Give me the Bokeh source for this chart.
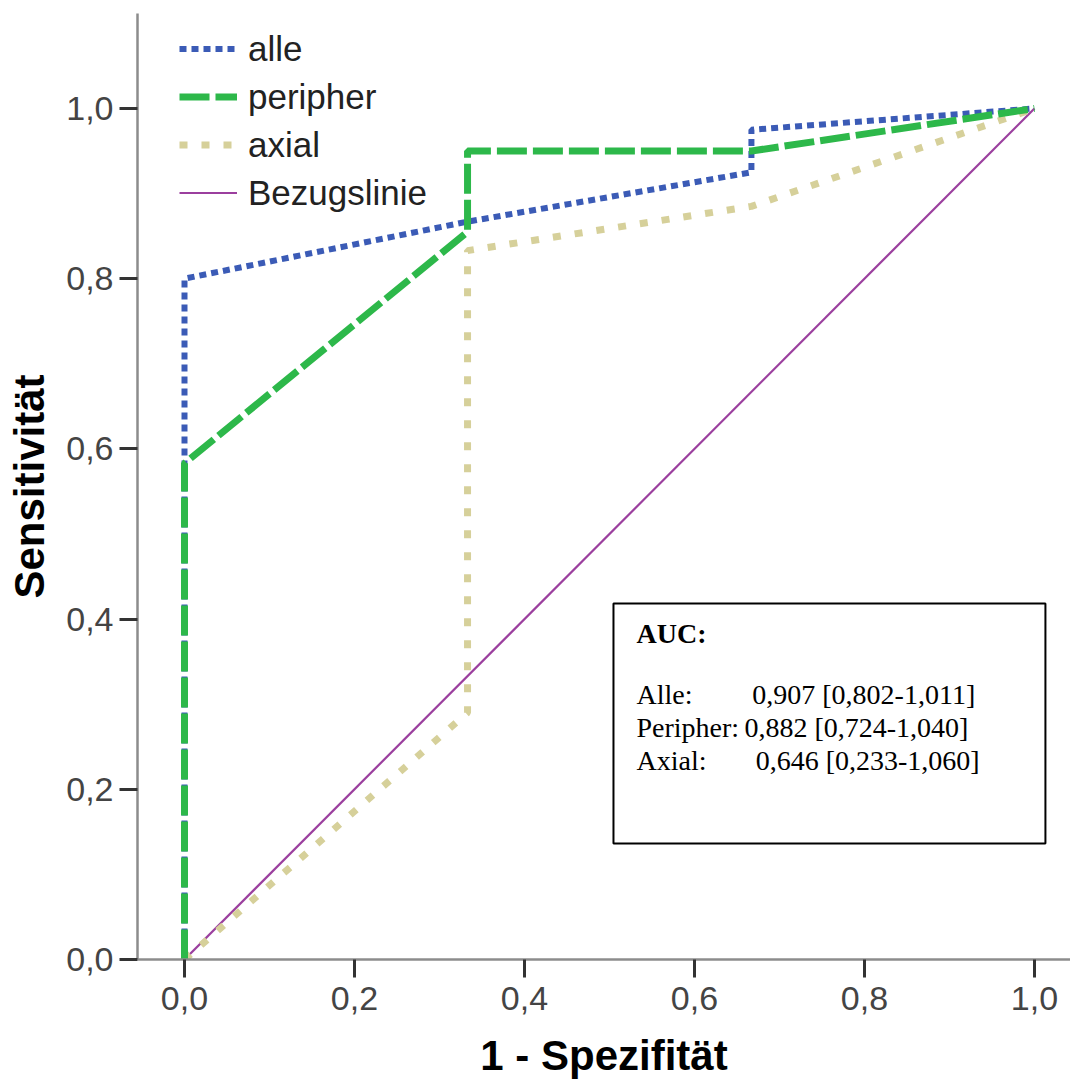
from bokeh.plotting import figure
from bokeh.models import (Range1d, FixedTicker, CustomJSTickFormatter, Legend, LegendItem,
                          BoxAnnotation, Label)
from bokeh.embed import file_html
from bokeh.resources import INLINE

# ---- data ----
alle_x = [0.0, 0.0, 0.333, 0.667, 0.667, 1.0]
alle_y = [0.0, 0.80, 0.867, 0.925, 0.975, 1.0]
peri_x = [0.0, 0.0, 0.333, 0.333, 0.667, 1.0]
peri_y = [0.0, 0.583, 0.855, 0.95, 0.95, 1.0]
axial_x = [0.0, 0.333, 0.333, 0.667, 1.0]
axial_y = [0.0, 0.29, 0.833, 0.885, 1.0]
ref_x = [0.0, 1.0]
ref_y = [0.0, 1.0]
series_names = ["alle", "peripher", "axial", "Bezugslinie"]
ticks = [0.0, 0.2, 0.4, 0.6, 0.8, 1.0]
x_title = "1 - Spezifität"
y_title = "Sensitivität"
auc_title = "AUC:"
auc_names = ["Alle:", "Peripher:", "Axial:"]
auc_values = ["0,907 [0,802-1,011]", "0,882 [0,724-1,040]", "0,646 [0,233-1,060]"]

FONT = "Liberation Sans"
SERIF = "Liberation Serif"

p = figure(width=1070, height=1083, output_backend="svg", toolbar_location=None,
           x_range=Range1d(-0.0553, 1.0424), y_range=Range1d(0.0, 1.1116),
           min_border_left=137, min_border_right=0, min_border_top=13, min_border_bottom=124)
p.outline_line_color = None
p.xgrid.visible = False
p.ygrid.visible = False
p.background_fill_color = "white"
p.border_fill_color = "white"

fmt = CustomJSTickFormatter(code="return tick.toFixed(1).replace('.', ',');")
for ax in (p.xaxis[0], p.yaxis[0]):
    ax.ticker = FixedTicker(ticks=ticks)
    ax.formatter = fmt
    ax.axis_line_color = "#8c8c8c"
    ax.axis_line_width = 2.5
    ax.major_tick_line_color = "#333333"
    ax.major_tick_line_width = 3
    ax.major_tick_out = 18
    ax.major_tick_in = 0
    ax.minor_tick_line_color = None
    ax.major_label_text_font = FONT
    ax.major_label_text_font_size = "34px"
    ax.major_label_text_color = "#444444"
    ax.axis_label_text_font = FONT
    ax.axis_label_text_font_style = "bold"
    ax.axis_label_text_font_size = "42px"
    ax.axis_label_text_color = "black"
p.xaxis[0].major_label_standoff = 9
p.yaxis[0].major_label_standoff = 6
p.xaxis[0].axis_label = x_title
p.xaxis[0].axis_label_standoff = 19
p.yaxis[0].axis_label = y_title
p.yaxis[0].axis_label_standoff = 10

r_ref = p.line(ref_x, ref_y, line_color="#9b3f9e", line_width=2.2)
r_axial = p.line(axial_x, axial_y, line_color="#d6d09a", line_width=7, line_dash="8 14")
r_alle = p.line(alle_x, alle_y, line_color="#3b5bb6", line_width=6, line_dash="7 5")
r_peri = p.line(peri_x, peri_y, line_color="#2db84a", line_width=7, line_dash="30 6")

legend = Legend(items=[LegendItem(label=series_names[0], renderers=[r_alle]),
                       LegendItem(label=series_names[1], renderers=[r_peri]),
                       LegendItem(label=series_names[2], renderers=[r_axial]),
                       LegendItem(label=series_names[3], renderers=[r_ref])],
                location=(42, 746), orientation="vertical")
legend.glyph_width = 58
legend.glyph_height = 41
legend.label_height = 41
legend.spacing = 7
legend.padding = 0
legend.margin = 0
legend.label_standoff = 11
legend.label_text_font = FONT
legend.label_text_font_size = "35px"
legend.label_text_color = "#222222"
legend.background_fill_alpha = 0
legend.border_line_color = None
p.add_layout(legend, "center")

box = BoxAnnotation(left=0.5047, right=1.0129, top=0.4183, bottom=0.1363,
                    fill_color="white", fill_alpha=1.0, line_color="black", line_alpha=1.0,
                    line_width=2)
p.add_layout(box)

p.add_layout(Label(x=0.5318, y=0.383, text=auc_title, text_font=SERIF, text_font_style="bold",
                   text_font_size="28px", text_baseline="middle", text_color="black"))
ys = [0.311, 0.2726, 0.2338]
vx = [0.668, 0.6588, 0.672]
for name, val, yy, xx in zip(auc_names, auc_values, ys, vx):
    p.add_layout(Label(x=0.5318, y=yy, text=name, text_font=SERIF, text_font_size="28px",
                       text_baseline="middle", text_color="black"))
    p.add_layout(Label(x=xx, y=yy, text=val, text_font=SERIF, text_font_size="28px",
                       text_baseline="middle", text_color="black"))

open("out.html", "w").write(file_html(p, INLINE))
